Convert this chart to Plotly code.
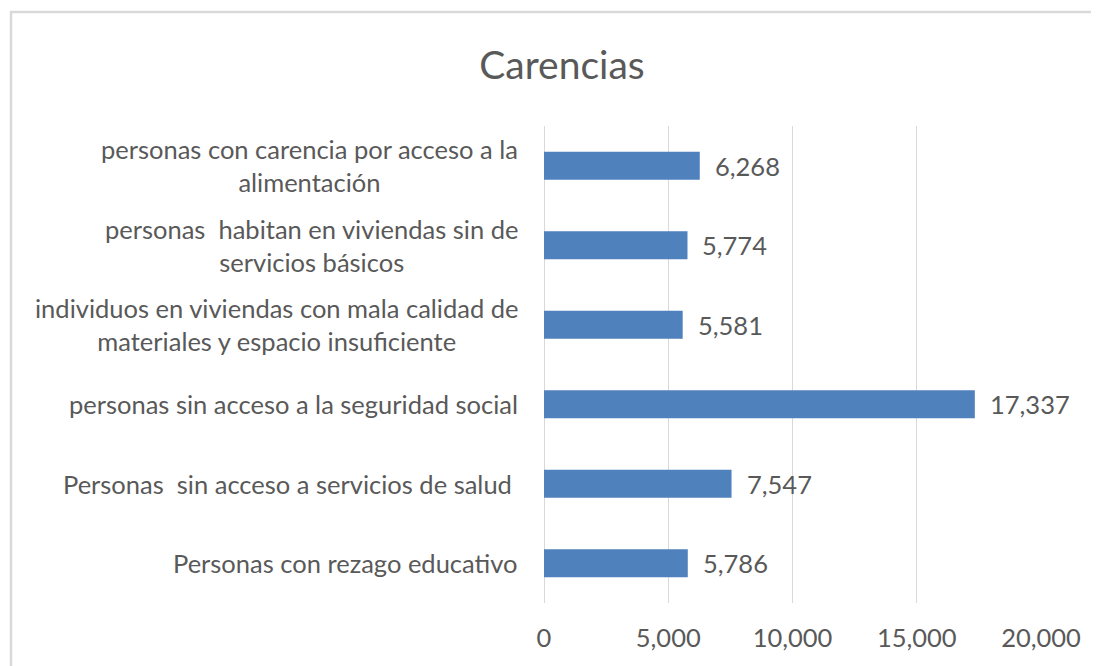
import plotly.graph_objects as go

categories = [
    "Personas con rezago educativo",
    "Personas  sin acceso a servicios de salud ",
    "personas sin acceso a la seguridad social",
    "individuos en viviendas con mala calidad de materiales y espacio insuficiente",
    "personas  habitan en viviendas sin de servicios básicos",
    "personas con carencia por acceso a la alimentación",
]
label_texts = [
    "Personas con rezago educativo",
    "Personas\u00a0 sin acceso a servicios de salud\u00a0",
    "personas sin acceso a la seguridad social",
    "individuos en viviendas con mala calidad de<br>materiales y espacio insuficiente",
    "personas\u00a0 habitan en viviendas sin de<br>servicios básicos",
    "personas con carencia por acceso a la<br>alimentación",
]
values = [5786, 7547, 17337, 5581, 5774, 6268]
x_ticks = [0, 5000, 10000, 15000, 20000]
x_ticktext = ["0", "5,000", "10,000", "15,000", "20,000"]

FONT = "Lato, Calibri, sans-serif"
TXT = "#595959"
LABEL_SIZE = 25.5

W, H = 1091, 658
L, T, PW, PH = 536, 118, 497, 477

fig = go.Figure()
fig.add_trace(go.Bar(
    x=values, y=categories, orientation="h",
    marker=dict(color="#4f81bd", line=dict(width=0)),
    hoverinfo="x+y",
))

annotations = []
for cat, txt in zip(categories, label_texts):
    annotations.append(dict(
        x=0, xref="paper", y=cat, yref="y",
        text=txt, showarrow=False, xanchor="right", align="center", xshift=-24,
        font=dict(family=FONT, size=LABEL_SIZE, color=TXT),
    ))
for cat, v in zip(categories, values):
    annotations.append(dict(
        x=v, xref="x", y=cat, yref="y",
        text=f"{v:,}", showarrow=False, xanchor="left", xshift=13,
        font=dict(family=FONT, size=LABEL_SIZE, color=TXT),
    ))

fig.update_layout(
    width=W, height=H,
    margin=dict(l=L, r=W - L - PW, t=T, b=H - T - PH),
    paper_bgcolor="white", plot_bgcolor="white",
    bargap=0.65,
    showlegend=False,
    title=dict(text="Carencias", x=554 / W, xanchor="center", y=1 - 57 / H, yanchor="middle",
               font=dict(family=FONT, size=39, color=TXT)),
    xaxis=dict(range=[0, 20000], tickvals=x_ticks, ticktext=x_ticktext,
               showgrid=True, gridcolor="#d9d9d9", gridwidth=1,
               zeroline=True, zerolinecolor="#d9d9d9", zerolinewidth=1,
               showline=False, ticks="outside", ticklen=12, tickcolor="rgba(0,0,0,0)",
               tickfont=dict(family=FONT, size=LABEL_SIZE, color=TXT), fixedrange=True),
    yaxis=dict(showticklabels=False, showgrid=False, zeroline=False, showline=False,
               categoryorder="array", categoryarray=categories, fixedrange=True),
    annotations=annotations,
    shapes=[dict(type="rect", xref="paper", yref="paper",
                 x0=(3 - L) / PW, x1=1.3, y0=-1, y1=1 + (T - 4) / PH,
                 line=dict(color="#d9d9d9", width=2.5), fillcolor="rgba(0,0,0,0)", layer="below")],
)

fig.write_html("out.html")
